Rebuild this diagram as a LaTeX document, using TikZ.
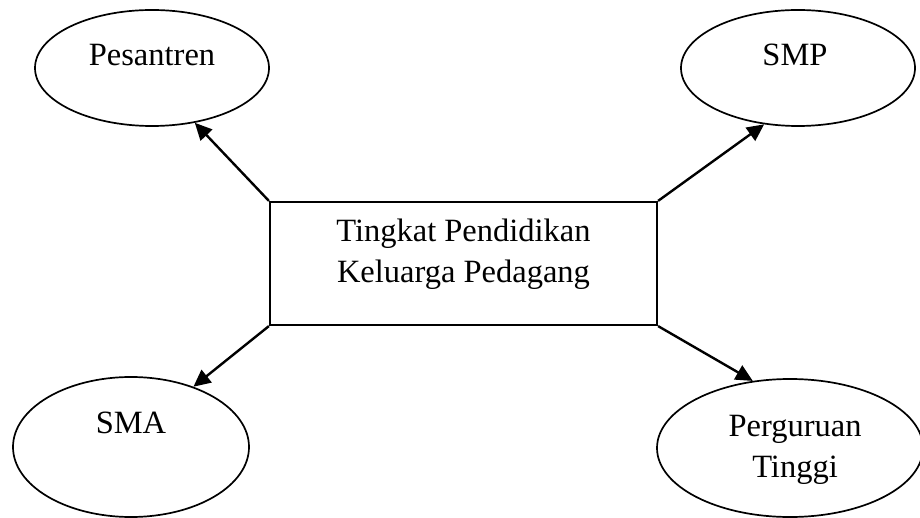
\documentclass[tikz,border=0pt]{standalone}
\usepackage{fontspec}
\setmainfont{Liberation Serif}
\usetikzlibrary{shapes.geometric,arrows.meta}
\begin{document}
\begin{tikzpicture}[x=1pt,y=-1pt,
  every node/.style={font=\fontsize{32.5}{41}\selectfont},
  oval/.style={draw,ellipse,line width=1.7pt,inner sep=0pt},
  mainbox/.style={draw,rectangle,line width=2.2pt,inner sep=0pt,
    minimum width=387pt,minimum height=123pt},
  txt/.style={inner sep=0pt,align=center},
  link/.style={line width=2.4pt,-{Triangle[length=17pt,width=16pt]}}]
\useasboundingbox (0,0) rectangle (920,518);

% central box
\node[mainbox] (box) at (463.5,263.5) {};
\node[txt] (boxT) at (463.5,254) {Tingkat Pendidikan\\Keluarga Pedagang};

% surrounding ellipses
\node[oval,minimum width=234pt,minimum height=116pt] (pes) at (152,68) {};
\node[txt] (pesT) at (152,55) {Pesantren};

\node[oval,minimum width=234pt,minimum height=116pt] (smp) at (798,68) {};
\node[txt] (smpT) at (795,55) {SMP};

\node[oval,minimum width=236pt,minimum height=140pt] (sma) at (131,447) {};
\node[txt] (smaT) at (131,423) {SMA};

\node[oval,minimum width=266pt,minimum height=138pt] (pt) at (790,448) {};
\node[txt] (ptT) at (795,450) {Perguruan\\Tinggi};

% arrows from the box corners
\draw[link] (box.north west) -- (pes.-52);
\draw[link] (box.north east) -- (smp.-121);
\draw[link] (box.south west) -- (sma.44);
\draw[link] (box.south east) -- (pt.119);
\end{tikzpicture}
\end{document}
